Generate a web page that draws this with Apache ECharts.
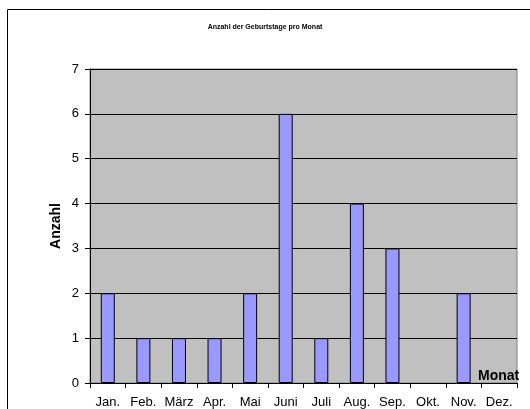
<!DOCTYPE html>
<html>
<head>
<meta charset="utf-8">
<script src="https://cdn.jsdelivr.net/npm/echarts@6/dist/echarts.min.js"></script>
<style>
  html, body { margin: 0; padding: 0; background: #fff; }
  #chart { width: 530px; height: 409px; }
</style>
</head>
<body>
<div id="chart"></div>
<script>
// Monate und Anzahl der Geburtstage
const months = ["Jan.", "Feb.", "März", "Apr.", "Mai", "Juni", "Juli", "Aug.", "Sep.", "Okt.", "Nov.", "Dez."];
const counts = [2, 1, 1, 1, 2, 6, 1, 4, 3, 0, 2, 0];

const chart = echarts.init(document.getElementById("chart"));
chart.setOption({
  animation: false,
  textStyle: { fontFamily: "Liberation Sans, Arial, sans-serif" },
  title: {
    text: "Anzahl der Geburtstage pro Monat",
    left: "center",
    top: 19,
    textStyle: { fontSize: 7, fontWeight: "bold", color: "#000" }
  },
  graphic: [
    {
      type: "rect",
      shape: { x: 7.5, y: 9.5, width: 530, height: 420 },
      style: { fill: "none", stroke: "#000", lineWidth: 1 },
      silent: true
    },
    {
      type: "text",
      left: 478,
      top: 369,
      z: 10,
      style: { text: "Monat", font: "bold 14px Liberation Sans, Arial, sans-serif", fill: "#000" }
    }
  ],
  grid: {
    left: 90,
    top: 69,
    right: 13,
    bottom: 26,
    show: true,
    backgroundColor: "#C0C0C0",
    borderColor: "#808080",
    borderWidth: 1
  },
  xAxis: {
    type: "category",
    data: months,
    axisLine: { lineStyle: { color: "#000" } },
    axisTick: { show: true, alignWithLabel: false, length: 5, lineStyle: { color: "#000" } },
    axisLabel: { color: "#000", fontSize: 13, margin: 13, interval: 0 }
  },
  yAxis: {
    type: "value",
    min: 0,
    max: 7,
    interval: 1,
    name: "Anzahl",
    nameLocation: "middle",
    nameRotate: 90,
    nameGap: 27,
    nameMoveOverlap: false,
    nameTextStyle: { fontSize: 14, fontWeight: "bold", color: "#000" },
    axisLine: { show: true, lineStyle: { color: "#000" } },
    axisTick: { show: true, length: 5, lineStyle: { color: "#000" } },
    axisLabel: { color: "#000", fontSize: 13, margin: 11 },
    splitLine: { lineStyle: { color: "#000", width: 1 } }
  },
  series: [
    {
      type: "bar",
      // leere Monate ohne Balken
      data: counts.map(v => (v === 0 ? null : v)),
      barWidth: 14,
      itemStyle: { color: "#9999FF", borderColor: "#000", borderWidth: 1 }
    }
  ]
});
</script>
</body>
</html>
